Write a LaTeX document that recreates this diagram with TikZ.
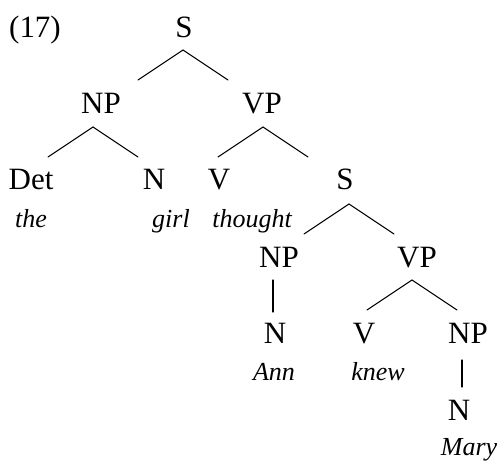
\documentclass[tikz,border=0pt]{standalone}
\usepackage{fontspec}
\setmainfont{Liberation Serif}

\tikzset{
  cat/.style={anchor=base, inner sep=0pt, font=\fontsize{31}{36}\selectfont},
  word/.style={anchor=base, inner sep=0pt, font=\fontsize{26}{30}\selectfont\itshape},
  branch/.style={line width=1.1pt, line cap=round}
}

\begin{document}
\begin{tikzpicture}[x=1pt, y=-1pt]
    \useasboundingbox (0,0) rectangle (499,461);
    % 例句编号
    \node[cat] (num) at (35,37) {(17)};
    % 句法范畴
    \node[cat] (S1)  at (184,37)  {S};
    \node[cat] (NP1) at (101,113) {NP};
    \node[cat] (VP1) at (262,113) {VP};
    \node[cat] (Det) at (31,189)  {Det};
    \node[cat] (N1)  at (154,189) {N};
    \node[cat] (V1)  at (219,189) {V};
    \node[cat] (S2)  at (345,189) {S};
    \node[cat] (NP2) at (279,267) {NP};
    \node[cat] (VP2) at (417,267) {VP};
    \node[cat] (N2)  at (275,343) {N};
    \node[cat] (V2)  at (364,343) {V};
    \node[cat] (NP3) at (468,343) {NP};
    \node[cat] (N3)  at (459,420) {N};
    % 词
    \node[word] (the)     at (31,227)  {the};
    \node[word] (girl)    at (171,227) {girl};
    \node[word] (thought) at (252,227) {thought};
    \node[word] (Ann)     at (274,380) {Ann};
    \node[word] (knew)    at (378,380) {knew};
    \node[word] (Mary)    at (469,455) {Mary};
    % 分叉线
    \foreach \p/\dx/\dy in {S1/-1/13, NP1/-8/14, VP1/1/14, S2/4/15, VP2/-5/13} {
      \draw[branch] ([xshift=\dx pt, yshift=-\dy pt]\p.base) -- +(-45,30);  % 左枝
      \draw[branch] ([xshift=\dx pt, yshift=-\dy pt]\p.base) -- +(45,30);   % 右枝
    }
    % 单枝
    \foreach \p/\dy/\len in {NP2/13/32, NP3/17/27} {
      \draw[branch] ([xshift=-6pt, yshift=-\dy pt]\p.base) -- +(0,\len);
    }
\end{tikzpicture}
\end{document}
